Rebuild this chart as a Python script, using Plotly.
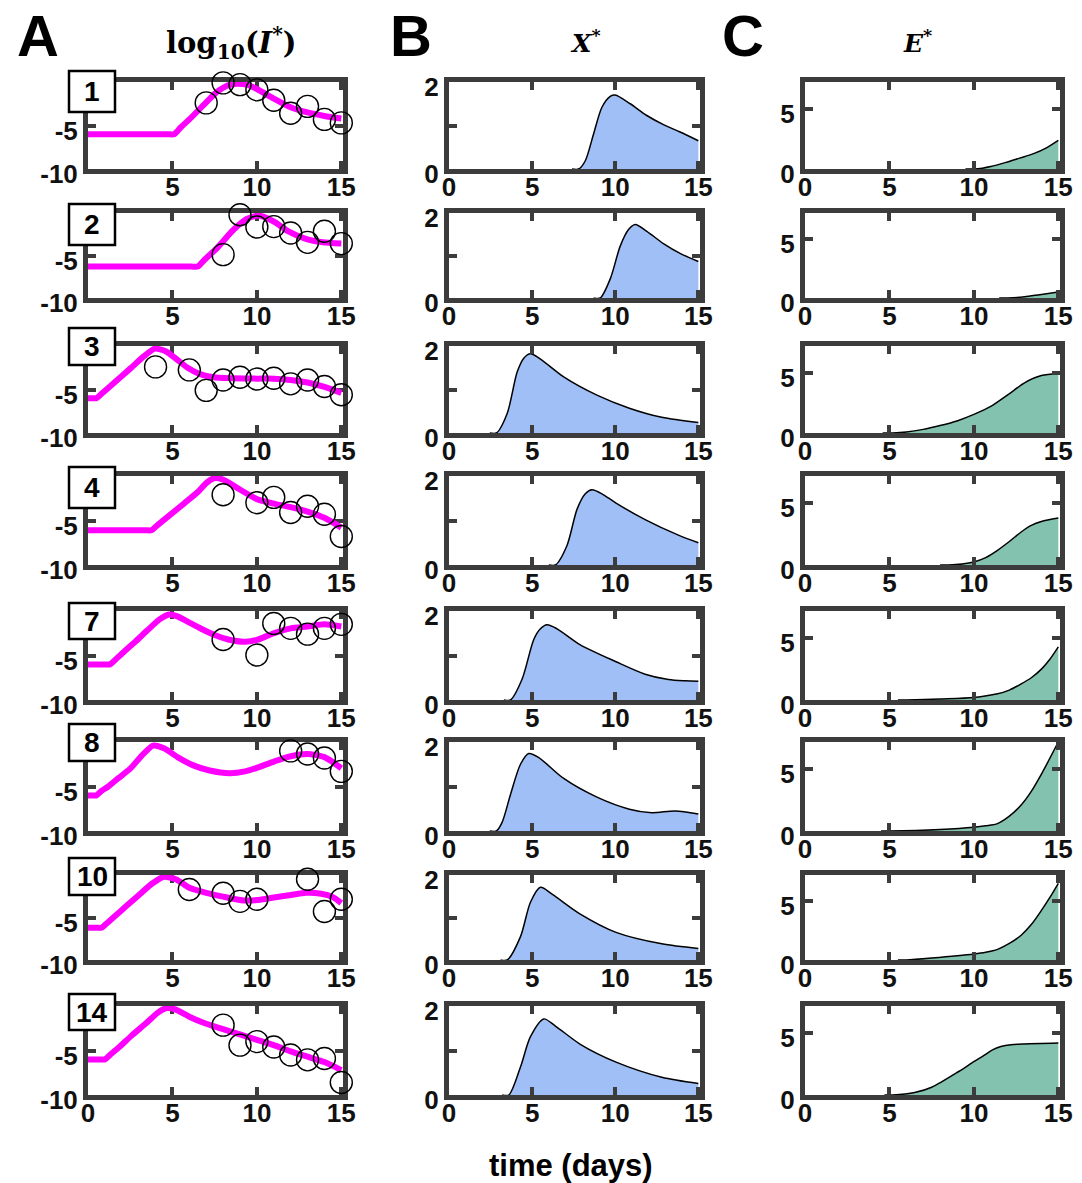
import plotly.graph_objects as go

W, H = 1082, 1183

row_labels = ["1", "2", "3", "4", "7", "8", "10", "14"]

# ---- Column A: log10(I*) model line and data circles ----
a_line_t = [
    [0, 2.5, 4.7, 5.1, 5.5, 6, 7, 7.6, 8.2, 8.8, 9.4, 10, 11, 12, 13, 14, 15],
    [0, 3, 6.1, 6.5, 6.9, 7.65, 8.6, 9.4, 10.1, 11, 11.9, 12.9, 13.9, 15],
    [0, 0.3, 0.5, 0.8, 1.5, 2.5, 3.3, 3.95, 4.6, 5.3, 5.9, 6.6, 7.45, 8.5, 10, 11, 12, 13, 14, 15],
    [0, 2, 3.4, 3.75, 4.1, 5.7, 6.5, 7, 7.45, 8, 8.8, 10, 11, 12, 13, 14, 15],
    [0, 1.0, 1.3, 1.6, 2, 2.8, 3.5, 4.2, 4.8, 5.3, 5.9, 6.7, 7.5, 8.3, 9.3, 10, 11, 12, 13, 14, 15],
    [0, 0.3, 0.5, 0.8, 1.2, 1.8, 2.5, 3.2, 3.85, 4.5, 5.3, 6.2, 7.2, 8.4, 9.3, 10, 11, 12, 13, 14, 15],
    [0, 0.5, 0.8, 1.1, 1.5, 2.3, 3.1, 3.8, 4.5, 5.2, 6, 7, 8, 9.2, 10, 11, 12, 12.9, 13.8, 14.5, 15],
    [0, 0.7, 1, 1.3, 1.8, 2.6, 3.4, 4.1, 4.6, 5.2, 6, 7, 8, 9, 10, 11, 12, 13, 14, 15],
]
a_line_v = [
    [-6, -6, -6, -6, -5.2, -4.3, -2.35, -1.2, -0.45, -0.2, -0.3, -0.8, -1.9, -2.9, -3.5, -3.9, -4.2],
    [-6.3, -6.3, -6.3, -6.3, -5.5, -4.1, -2.0, -0.7, -0.3, -1.0, -2.2, -3.05, -3.45, -3.6],
    [-6, -6, -6, -5.5, -4.3, -2.6, -1.2, -0.3, -0.6, -1.6, -2.5, -3.2, -3.6, -3.7, -3.75, -3.75, -3.9, -4.2, -4.7, -5.4],
    [-6.1, -6.1, -6.1, -6.1, -5.55, -3.07, -1.8, -0.8, -0.25, -0.4, -1.3, -2.6, -3.1, -3.5, -4.0, -4.7, -5.8],
    [-6, -6, -6, -5.5, -4.8, -3.45, -2.2, -1.0, -0.4, -0.6, -1.2, -2.0, -2.7, -3.2, -3.45, -3.25, -2.5, -1.95, -1.75, -1.5, -1.75],
    [-6, -6, -6, -5.5, -5.0, -4.06, -3.0, -1.5, -0.4, -0.7, -1.7, -2.6, -3.2, -3.5, -3.3, -2.9, -2.2, -1.6, -1.35, -1.7, -2.95],
    [-6.2, -6.2, -6.2, -5.7, -5.0, -3.6, -2.2, -1.0, -0.2, -0.5, -1.5, -2.1, -2.55, -3.0, -2.95, -2.65, -2.35, -2.1, -2.2, -2.6, -3.3],
    [-6, -6, -6, -5.5, -4.7, -3.3, -2.0, -0.8, -0.25, -0.4, -1.2, -2.0, -2.6, -3.2, -3.8, -4.4, -5.1, -5.7, -6.3, -7.2],
]
a_data_t = [
    [7, 8, 9, 10, 11, 12, 13, 14, 15],
    [8, 9, 10, 11, 12, 13, 14, 15],
    [4, 6, 7, 8, 9, 10, 11, 12, 13, 14, 15],
    [8, 10, 11, 12, 13, 14, 15],
    [8, 10, 11, 12, 13, 14, 15],
    [12, 13, 14, 15],
    [6, 8, 9, 10, 13, 14, 15],
    [8, 9, 10, 11, 12, 13, 14, 15],
]
a_data_v = [
    [-2.4, -0.1, -0.3, -0.9, -2.1, -3.6, -2.8, -4.3, -4.7],
    [-4.9, -0.2, -1.65, -1.6, -2.35, -3.45, -2.15, -3.6],
    [-2.4, -2.75, -5.1, -3.9, -3.6, -3.8, -3.7, -4.35, -3.9, -4.65, -5.6],
    [-2.1, -3.0, -2.4, -4.1, -3.4, -4.3, -6.8],
    [-3.2, -4.95, -1.4, -1.95, -2.6, -1.95, -1.5],
    [-1.0, -1.35, -1.8, -3.3],
    [-1.7, -2.15, -3.1, -2.85, -0.5, -4.3, -2.85],
    [-2.15, -4.4, -4.0, -4.6, -5.5, -6.05, -5.9, -8.6],
]

# ---- Column B: X* (zero before the first listed time) ----
b_t = [
    [7.4, 7.8, 8.2, 8.7, 9.2, 9.7, 10, 10.9, 11.9, 12.9, 13.9, 15],
    [8.7, 9.1, 9.7, 10.3, 10.8, 11.2, 11.9, 12.9, 13.9, 15],
    [2.45, 2.85, 3.5, 4.1, 4.5, 4.9, 5.5, 6.9, 8.9, 10.85, 12.8, 15],
    [6.0, 6.4, 7.1, 7.7, 8.2, 8.6, 9.2, 10.05, 11.8, 13.8, 15],
    [3.3, 3.7, 4.4, 5.1, 5.5, 5.9, 6.5, 7.9, 10.05, 11.8, 13.2, 14.2, 15],
    [2.45, 2.85, 3.2, 3.7, 4.3, 4.8, 5.4, 6.9, 8.9, 10.85, 12.2, 13.6, 15],
    [3.1, 3.5, 4.3, 4.9, 5.5, 6.2, 7.9, 10.05, 12.8, 15],
    [3.2, 3.6, 4.3, 4.9, 5.7, 6.4, 7.9, 10.05, 12.8, 15],
]
b_v = [
    [0, 0, 0.19, 0.81, 1.42, 1.67, 1.7, 1.5, 1.23, 1.02, 0.85, 0.65],
    [0, 0, 0.45, 1.22, 1.61, 1.73, 1.57, 1.28, 1.05, 0.86],
    [0, 0, 0.45, 1.4, 1.72, 1.82, 1.7, 1.29, 0.87, 0.57, 0.36, 0.24],
    [0, 0, 0.44, 1.25, 1.6, 1.69, 1.6, 1.39, 1.02, 0.67, 0.5],
    [0, 0, 0.47, 1.36, 1.6, 1.69, 1.6, 1.24, 0.86, 0.58, 0.46, 0.43, 0.42],
    [0, 0, 0.2, 0.82, 1.5, 1.74, 1.65, 1.18, 0.76, 0.49, 0.41, 0.45, 0.38],
    [0, 0, 0.55, 1.36, 1.71, 1.55, 1.08, 0.65, 0.38, 0.27],
    [0, 0, 0.63, 1.31, 1.71, 1.55, 1.14, 0.74, 0.4, 0.26],
]

# ---- Column C: E* (zero before the first listed time) ----
c_t = [
    [9.5, 10, 10.5, 11, 11.9, 12.7, 13.5, 14.3, 15],
    [11.5, 12, 13, 13.9, 15],
    [4.6, 5.2, 6, 7, 8, 9, 10, 11, 12, 13, 14, 15],
    [8, 8.5, 9.3, 10, 10.7, 11.4, 12.1, 12.8, 13.4, 14, 15],
    [5.5, 6, 8, 10, 11.4, 12.1, 12.8, 13.4, 14, 14.5, 15],
    [4.5, 5, 8, 10, 10.7, 11.4, 12.1, 12.8, 13.4, 14, 15],
    [5.5, 6, 7.5, 10, 10.7, 11.4, 12.1, 12.8, 13.4, 14, 14.5, 15],
    [4.7, 5.2, 6.5, 7.5, 9.1, 10, 10.6, 11.1, 11.6, 12.2, 13, 15],
]
c_v = [
    [0, 0, 0.07, 0.2, 0.55, 0.9, 1.25, 1.75, 2.36],
    [0, 0, 0.1, 0.28, 0.5],
    [0, 0, 0.08, 0.3, 0.62, 1.0, 1.54, 2.2, 3.15, 4.15, 4.75, 4.9],
    [0, 0, 0.08, 0.25, 0.6, 1.19, 1.9, 2.67, 3.2, 3.52, 3.8],
    [0, 0, 0.08, 0.2, 0.5, 0.8, 1.3, 1.8, 2.5, 3.3, 4.3],
    [0, 0, 0.12, 0.3, 0.42, 0.6, 1.2, 2.1, 3.2, 4.6, 7.2],
    [0, 0, 0.16, 0.5, 0.65, 0.9, 1.4, 2.1, 3.0, 4.2, 5.3, 6.5],
    [0, 0, 0.2, 0.63, 1.9, 2.7, 3.2, 3.65, 3.92, 4.07, 4.13, 4.2],
]

x_tick_vals = [0, 5, 10, 15]
a_y_ticks = [-10, -5]
b_y_ticks = [0, 1, 2]
b_y_text = ["0", "", "2"]
c_y_ticks = [0, 5]

# ---- layout geometry (pixels) ----
col_x = [(88, 343), (449, 700), (805, 1060)]
row_y = [(82, 169), (213, 298), (346, 433), (476, 565), (611, 700), (742, 831), (875, 960), (1006, 1095)]
box_y = [(71, 112), (204, 245), (328, 365), (467, 508), (603, 639), (724, 761), (858, 895), (994, 1030)]

AXC = "#3c3c3c"
TICKFONT = dict(family="Liberation Sans, Arial", size=26, color="#111111", weight="bold")

def px_x(x):
    return x / W

def px_y(y):
    return 1 - y / H

fig = go.Figure()
layout = {}

for r in range(8):
    for c in range(3):
        k = r * 3 + c + 1
        xa = "x" if k == 1 else f"x{k}"
        ya = "y" if k == 1 else f"y{k}"
        if c == 0:
            fig.add_trace(go.Scatter(x=a_line_t[r], y=a_line_v[r], mode="lines",
                                     line=dict(color="#ff00ff", width=6, shape="spline", smoothing=0.6),
                                     xaxis=xa, yaxis=ya, cliponaxis=False, showlegend=False))
            fig.add_trace(go.Scatter(x=a_data_t[r], y=a_data_v[r], mode="markers",
                                     marker=dict(symbol="circle-open", size=22, color="black",
                                                 line=dict(width=1.4, color="black")),
                                     xaxis=xa, yaxis=ya, cliponaxis=False, showlegend=False))
        elif c == 1:
            fig.add_trace(go.Scatter(x=b_t[r], y=b_v[r], mode="lines", fill="tozeroy",
                                     fillcolor="#a0bff7",
                                     line=dict(color="black", width=1.5, shape="spline", smoothing=0.8),
                                     xaxis=xa, yaxis=ya, showlegend=False))
        else:
            fig.add_trace(go.Scatter(x=c_t[r], y=c_v[r], mode="lines", fill="tozeroy",
                                     fillcolor="#82c2ae",
                                     line=dict(color="black", width=1.5, shape="spline", smoothing=0.8),
                                     xaxis=xa, yaxis=ya, showlegend=False))

        x0, x1 = col_x[c]
        y0, y1 = row_y[r]
        if c == 0:
            xt = x_tick_vals if r == 7 else x_tick_vals[1:]
        else:
            xt = x_tick_vals
        xname = "xaxis" if k == 1 else f"xaxis{k}"
        yname = "yaxis" if k == 1 else f"yaxis{k}"
        layout[xname] = dict(
            domain=[px_x(x0), px_x(x1)], anchor=ya, range=[0, 15.1],
            tickvals=xt, ticktext=[str(v) for v in xt], automargin=False,
            showline=True, linewidth=5, linecolor=AXC, mirror="ticks",
            ticks="inside", ticklen=8, tickwidth=4, tickcolor=AXC,
            showgrid=False, zeroline=False, tickfont=TICKFONT, fixedrange=True,
            ticklabelstandoff=-9,
            layer="below traces" if c == 0 else "above traces",
        )
        if c == 0:
            yr, yt, ytt = [-10, 0], a_y_ticks, [str(v) for v in a_y_ticks]
        elif c == 1:
            yr, yt, ytt = [0, 2], b_y_ticks, b_y_text
        else:
            yr, yt, ytt = [0, 7.2], c_y_ticks, [str(v) for v in c_y_ticks]
        layout[yname] = dict(
            domain=[px_y(y1), px_y(y0)], anchor=xa, range=yr,
            tickvals=yt, ticktext=ytt, automargin=False,
            showline=True, linewidth=5, linecolor=AXC, mirror="ticks",
            ticks="inside", ticklen=8, tickwidth=4, tickcolor=AXC,
            showgrid=False, zeroline=False, tickfont=TICKFONT, fixedrange=True,
            ticklabelshift=5,
            layer="below traces" if c == 0 else "above traces",
        )

shapes = []
annotations = []
for r in range(8):
    by0, by1 = box_y[r]
    shapes.append(dict(type="rect", xref="paper", yref="paper",
                       x0=px_x(69), x1=px_x(115), y0=px_y(by1), y1=px_y(by0),
                       line=dict(color="black", width=2.5), fillcolor="white", layer="above"))
    annotations.append(dict(text=row_labels[r], xref="paper", yref="paper",
                            x=px_x(92), y=px_y((by0 + by1) / 2), showarrow=False,
                            xanchor="center", yanchor="middle",
                            font=dict(family="Liberation Sans, Arial", size=28, color="black", weight="bold")))

for letter, lx in [("A", 38), ("B", 411), ("C", 743)]:
    annotations.append(dict(text=letter, xref="paper", yref="paper", x=px_x(lx), y=px_y(35),
                            showarrow=False, xanchor="center", yanchor="middle",
                            font=dict(family="Liberation Sans, Arial", size=58, color="black", weight="bold")))

serif = dict(family="DejaVu Serif, Liberation Serif", size=25, color="black", weight="bold")
annotations.append(dict(text="log<sub>10</sub>(<i>I</i><sup>*</sup>)", xref="paper", yref="paper",
                        x=px_x(231), y=px_y(43), showarrow=False, xanchor="center", yanchor="middle",
                        font=dict(family="DejaVu Serif, Liberation Serif", size=29, color="black", weight="bold")))
annotations.append(dict(text="<i>X</i><sup>*</sup>", xref="paper", yref="paper",
                        x=px_x(585), y=px_y(42), showarrow=False, xanchor="center", yanchor="middle",
                        font=serif))
annotations.append(dict(text="<i>E</i><sup>*</sup>", xref="paper", yref="paper",
                        x=px_x(917), y=px_y(42), showarrow=False, xanchor="center", yanchor="middle",
                        font=serif))
annotations.append(dict(text="time (days)", xref="paper", yref="paper",
                        x=px_x(571), y=px_y(1165), showarrow=False, xanchor="center", yanchor="middle",
                        font=dict(family="Liberation Sans, Arial", size=31, color="black", weight="bold")))

fig.update_layout(width=W, height=H, margin=dict(l=0, r=0, t=0, b=0, autoexpand=False),
                  paper_bgcolor="white", plot_bgcolor="white",
                  shapes=shapes, annotations=annotations, **layout)

fig.write_html("out.html")
